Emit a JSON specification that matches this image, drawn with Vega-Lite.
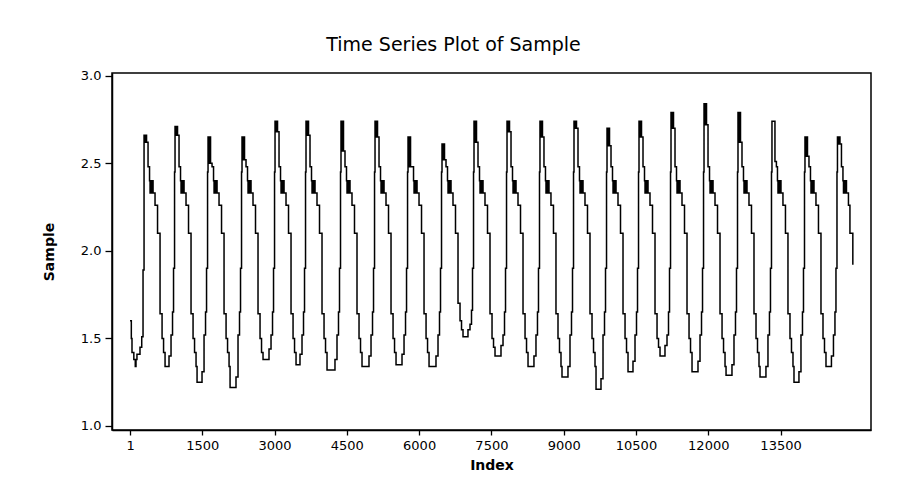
{
"$schema": "https://vega.github.io/schema/vega-lite/v6.json",
"width": 759, "height": 357,
"autosize": "none",
"padding": {"left": 112, "top": 73, "right": 31, "bottom": 63},
"background": "white",
"title": {"text": "Time Series Plot of Sample", "anchor": "middle", "dx": -38, "offset": 15, "fontSize": 19, "font": "DejaVu Sans", "fontWeight": "normal", "color": "black"},
"data": {"values": [
{"Index":1,"Sample":1.60},{"Index":28,"Sample":1.50},{"Index":42,"Sample":1.42},{"Index":80,"Sample":1.38},{"Index":110,"Sample":1.34},{"Index":125,"Sample":1.38},{"Index":145,"Sample":1.41},{"Index":208,"Sample":1.45},{"Index":244,"Sample":1.51},{"Index":271,"Sample":1.89},
{"Index":292,"Sample":2.66},{"Index":302,"Sample":2.62},{"Index":312,"Sample":2.66},{"Index":323,"Sample":2.62},{"Index":333,"Sample":2.66},{"Index":344,"Sample":2.62},{"Index":375,"Sample":2.48},{"Index":406,"Sample":2.40},{"Index":417,"Sample":2.33},{"Index":427,"Sample":2.40},{"Index":437,"Sample":2.33},{"Index":448,"Sample":2.40},{"Index":458,"Sample":2.33},{"Index":468,"Sample":2.40},{"Index":479,"Sample":2.33},{"Index":520,"Sample":2.26},{"Index":572,"Sample":2.10},{"Index":624,"Sample":1.64},{"Index":666,"Sample":1.50},{"Index":697,"Sample":1.42},{"Index":728,"Sample":1.34},{"Index":810,"Sample":1.40},{"Index":852,"Sample":1.52},{"Index":883,"Sample":1.65},{"Index":904,"Sample":1.90},{"Index":925,"Sample":2.45},
{"Index":935,"Sample":2.71},{"Index":945,"Sample":2.66},{"Index":955,"Sample":2.71},{"Index":966,"Sample":2.66},{"Index":976,"Sample":2.71},{"Index":987,"Sample":2.66},{"Index":1018,"Sample":2.48},{"Index":1049,"Sample":2.40},{"Index":1060,"Sample":2.33},{"Index":1070,"Sample":2.40},{"Index":1080,"Sample":2.33},{"Index":1091,"Sample":2.40},{"Index":1101,"Sample":2.33},{"Index":1111,"Sample":2.40},{"Index":1122,"Sample":2.33},{"Index":1163,"Sample":2.26},{"Index":1215,"Sample":2.10},{"Index":1267,"Sample":1.64},{"Index":1309,"Sample":1.50},{"Index":1340,"Sample":1.42},{"Index":1371,"Sample":1.34},{"Index":1392,"Sample":1.25},{"Index":1495,"Sample":1.31},{"Index":1537,"Sample":1.52},{"Index":1568,"Sample":1.65},{"Index":1589,"Sample":1.90},{"Index":1610,"Sample":2.45},
{"Index":1620,"Sample":2.65},{"Index":1630,"Sample":2.50},{"Index":1640,"Sample":2.65},{"Index":1651,"Sample":2.50},{"Index":1661,"Sample":2.65},{"Index":1672,"Sample":2.50},{"Index":1703,"Sample":2.48},{"Index":1734,"Sample":2.40},{"Index":1745,"Sample":2.33},{"Index":1755,"Sample":2.40},{"Index":1765,"Sample":2.33},{"Index":1776,"Sample":2.40},{"Index":1786,"Sample":2.33},{"Index":1796,"Sample":2.40},{"Index":1807,"Sample":2.33},{"Index":1848,"Sample":2.26},{"Index":1900,"Sample":2.10},{"Index":1952,"Sample":1.64},{"Index":1994,"Sample":1.50},{"Index":2025,"Sample":1.42},{"Index":2056,"Sample":1.34},{"Index":2077,"Sample":1.22},{"Index":2200,"Sample":1.28},{"Index":2242,"Sample":1.52},{"Index":2273,"Sample":1.65},{"Index":2294,"Sample":1.90},{"Index":2315,"Sample":2.45},
{"Index":2325,"Sample":2.65},{"Index":2335,"Sample":2.52},{"Index":2345,"Sample":2.65},{"Index":2356,"Sample":2.52},{"Index":2366,"Sample":2.65},{"Index":2377,"Sample":2.52},{"Index":2408,"Sample":2.48},{"Index":2439,"Sample":2.40},{"Index":2450,"Sample":2.33},{"Index":2460,"Sample":2.40},{"Index":2470,"Sample":2.33},{"Index":2481,"Sample":2.40},{"Index":2491,"Sample":2.33},{"Index":2501,"Sample":2.40},{"Index":2512,"Sample":2.33},{"Index":2553,"Sample":2.26},{"Index":2605,"Sample":2.10},{"Index":2657,"Sample":1.64},{"Index":2699,"Sample":1.50},{"Index":2730,"Sample":1.42},{"Index":2761,"Sample":1.38},{"Index":2885,"Sample":1.44},{"Index":2927,"Sample":1.52},{"Index":2958,"Sample":1.65},{"Index":2979,"Sample":1.90},{"Index":3000,"Sample":2.45},
{"Index":3010,"Sample":2.74},{"Index":3020,"Sample":2.68},{"Index":3030,"Sample":2.74},{"Index":3041,"Sample":2.68},{"Index":3051,"Sample":2.74},{"Index":3062,"Sample":2.68},{"Index":3093,"Sample":2.48},{"Index":3124,"Sample":2.40},{"Index":3135,"Sample":2.33},{"Index":3145,"Sample":2.40},{"Index":3155,"Sample":2.33},{"Index":3166,"Sample":2.40},{"Index":3176,"Sample":2.33},{"Index":3186,"Sample":2.40},{"Index":3197,"Sample":2.33},{"Index":3238,"Sample":2.26},{"Index":3290,"Sample":2.10},{"Index":3342,"Sample":1.64},{"Index":3384,"Sample":1.50},{"Index":3415,"Sample":1.42},{"Index":3446,"Sample":1.35},{"Index":3528,"Sample":1.41},{"Index":3570,"Sample":1.52},{"Index":3601,"Sample":1.65},{"Index":3622,"Sample":1.90},{"Index":3643,"Sample":2.45},
{"Index":3653,"Sample":2.74},{"Index":3663,"Sample":2.66},{"Index":3673,"Sample":2.74},{"Index":3684,"Sample":2.66},{"Index":3694,"Sample":2.74},{"Index":3705,"Sample":2.66},{"Index":3736,"Sample":2.48},{"Index":3767,"Sample":2.40},{"Index":3778,"Sample":2.33},{"Index":3788,"Sample":2.40},{"Index":3798,"Sample":2.33},{"Index":3809,"Sample":2.40},{"Index":3819,"Sample":2.33},{"Index":3829,"Sample":2.40},{"Index":3840,"Sample":2.33},{"Index":3881,"Sample":2.26},{"Index":3933,"Sample":2.10},{"Index":3985,"Sample":1.64},{"Index":4027,"Sample":1.50},{"Index":4058,"Sample":1.42},{"Index":4089,"Sample":1.32},{"Index":4254,"Sample":1.38},{"Index":4296,"Sample":1.52},{"Index":4327,"Sample":1.65},{"Index":4348,"Sample":1.90},{"Index":4369,"Sample":2.45},
{"Index":4379,"Sample":2.74},{"Index":4389,"Sample":2.57},{"Index":4399,"Sample":2.74},{"Index":4410,"Sample":2.57},{"Index":4420,"Sample":2.74},{"Index":4431,"Sample":2.57},{"Index":4462,"Sample":2.48},{"Index":4493,"Sample":2.40},{"Index":4504,"Sample":2.33},{"Index":4514,"Sample":2.40},{"Index":4524,"Sample":2.33},{"Index":4535,"Sample":2.40},{"Index":4545,"Sample":2.33},{"Index":4555,"Sample":2.40},{"Index":4566,"Sample":2.33},{"Index":4607,"Sample":2.26},{"Index":4659,"Sample":2.10},{"Index":4711,"Sample":1.64},{"Index":4753,"Sample":1.50},{"Index":4784,"Sample":1.42},{"Index":4815,"Sample":1.34},{"Index":4960,"Sample":1.40},{"Index":5002,"Sample":1.52},{"Index":5033,"Sample":1.65},{"Index":5054,"Sample":1.90},{"Index":5075,"Sample":2.45},
{"Index":5085,"Sample":2.74},{"Index":5095,"Sample":2.65},{"Index":5105,"Sample":2.74},{"Index":5116,"Sample":2.65},{"Index":5126,"Sample":2.74},{"Index":5137,"Sample":2.65},{"Index":5168,"Sample":2.48},{"Index":5199,"Sample":2.40},{"Index":5210,"Sample":2.33},{"Index":5220,"Sample":2.40},{"Index":5230,"Sample":2.33},{"Index":5241,"Sample":2.40},{"Index":5251,"Sample":2.33},{"Index":5261,"Sample":2.40},{"Index":5272,"Sample":2.33},{"Index":5313,"Sample":2.26},{"Index":5365,"Sample":2.10},{"Index":5417,"Sample":1.64},{"Index":5459,"Sample":1.50},{"Index":5490,"Sample":1.42},{"Index":5521,"Sample":1.35},{"Index":5645,"Sample":1.41},{"Index":5687,"Sample":1.52},{"Index":5718,"Sample":1.65},{"Index":5739,"Sample":1.90},{"Index":5760,"Sample":2.45},
{"Index":5770,"Sample":2.65},{"Index":5780,"Sample":2.48},{"Index":5790,"Sample":2.65},{"Index":5801,"Sample":2.48},{"Index":5811,"Sample":2.65},{"Index":5822,"Sample":2.48},{"Index":5853,"Sample":2.48},{"Index":5884,"Sample":2.40},{"Index":5895,"Sample":2.33},{"Index":5905,"Sample":2.40},{"Index":5915,"Sample":2.33},{"Index":5926,"Sample":2.40},{"Index":5936,"Sample":2.33},{"Index":5946,"Sample":2.40},{"Index":5957,"Sample":2.33},{"Index":5998,"Sample":2.26},{"Index":6050,"Sample":2.10},{"Index":6102,"Sample":1.64},{"Index":6144,"Sample":1.50},{"Index":6175,"Sample":1.42},{"Index":6206,"Sample":1.34},{"Index":6350,"Sample":1.40},{"Index":6392,"Sample":1.52},{"Index":6423,"Sample":1.65},{"Index":6444,"Sample":1.90},{"Index":6465,"Sample":2.45},
{"Index":6475,"Sample":2.61},{"Index":6485,"Sample":2.52},{"Index":6495,"Sample":2.61},{"Index":6506,"Sample":2.52},{"Index":6516,"Sample":2.61},{"Index":6527,"Sample":2.52},{"Index":6558,"Sample":2.48},{"Index":6589,"Sample":2.40},{"Index":6600,"Sample":2.33},{"Index":6610,"Sample":2.40},{"Index":6620,"Sample":2.33},{"Index":6631,"Sample":2.40},{"Index":6641,"Sample":2.33},{"Index":6651,"Sample":2.40},{"Index":6662,"Sample":2.33},{"Index":6703,"Sample":2.26},{"Index":6755,"Sample":2.10},{"Index":6807,"Sample":1.70},{"Index":6849,"Sample":1.60},{"Index":6880,"Sample":1.55},{"Index":6911,"Sample":1.51},{"Index":7014,"Sample":1.55},{"Index":7056,"Sample":1.58},{"Index":7087,"Sample":1.66},{"Index":7108,"Sample":1.90},{"Index":7129,"Sample":2.45},
{"Index":7139,"Sample":2.74},{"Index":7149,"Sample":2.62},{"Index":7159,"Sample":2.74},{"Index":7170,"Sample":2.62},{"Index":7180,"Sample":2.74},{"Index":7191,"Sample":2.62},{"Index":7222,"Sample":2.48},{"Index":7253,"Sample":2.40},{"Index":7264,"Sample":2.33},{"Index":7274,"Sample":2.40},{"Index":7284,"Sample":2.33},{"Index":7295,"Sample":2.40},{"Index":7305,"Sample":2.33},{"Index":7315,"Sample":2.40},{"Index":7326,"Sample":2.33},{"Index":7367,"Sample":2.26},{"Index":7419,"Sample":2.10},{"Index":7471,"Sample":1.64},{"Index":7513,"Sample":1.50},{"Index":7544,"Sample":1.45},{"Index":7575,"Sample":1.40},{"Index":7699,"Sample":1.46},{"Index":7741,"Sample":1.52},{"Index":7772,"Sample":1.65},{"Index":7793,"Sample":1.90},{"Index":7814,"Sample":2.45},
{"Index":7824,"Sample":2.74},{"Index":7834,"Sample":2.68},{"Index":7844,"Sample":2.74},{"Index":7855,"Sample":2.68},{"Index":7865,"Sample":2.74},{"Index":7876,"Sample":2.68},{"Index":7907,"Sample":2.48},{"Index":7938,"Sample":2.40},{"Index":7949,"Sample":2.33},{"Index":7959,"Sample":2.40},{"Index":7969,"Sample":2.33},{"Index":7980,"Sample":2.40},{"Index":7990,"Sample":2.33},{"Index":8000,"Sample":2.40},{"Index":8011,"Sample":2.33},{"Index":8052,"Sample":2.26},{"Index":8104,"Sample":2.10},{"Index":8156,"Sample":1.64},{"Index":8198,"Sample":1.50},{"Index":8229,"Sample":1.42},{"Index":8260,"Sample":1.34},{"Index":8383,"Sample":1.40},{"Index":8425,"Sample":1.52},{"Index":8456,"Sample":1.65},{"Index":8477,"Sample":1.90},{"Index":8498,"Sample":2.45},
{"Index":8508,"Sample":2.74},{"Index":8518,"Sample":2.65},{"Index":8528,"Sample":2.74},{"Index":8539,"Sample":2.65},{"Index":8549,"Sample":2.74},{"Index":8560,"Sample":2.65},{"Index":8591,"Sample":2.48},{"Index":8622,"Sample":2.40},{"Index":8633,"Sample":2.33},{"Index":8643,"Sample":2.40},{"Index":8653,"Sample":2.33},{"Index":8664,"Sample":2.40},{"Index":8674,"Sample":2.33},{"Index":8684,"Sample":2.40},{"Index":8695,"Sample":2.33},{"Index":8736,"Sample":2.26},{"Index":8788,"Sample":2.10},{"Index":8840,"Sample":1.64},{"Index":8882,"Sample":1.50},{"Index":8913,"Sample":1.42},{"Index":8944,"Sample":1.34},{"Index":8965,"Sample":1.28},{"Index":9089,"Sample":1.34},{"Index":9131,"Sample":1.52},{"Index":9162,"Sample":1.65},{"Index":9183,"Sample":1.90},{"Index":9204,"Sample":2.45},
{"Index":9214,"Sample":2.74},{"Index":9224,"Sample":2.70},{"Index":9234,"Sample":2.74},{"Index":9245,"Sample":2.70},{"Index":9255,"Sample":2.74},{"Index":9266,"Sample":2.70},{"Index":9297,"Sample":2.48},{"Index":9328,"Sample":2.40},{"Index":9339,"Sample":2.33},{"Index":9349,"Sample":2.40},{"Index":9359,"Sample":2.33},{"Index":9370,"Sample":2.40},{"Index":9380,"Sample":2.33},{"Index":9390,"Sample":2.40},{"Index":9401,"Sample":2.33},{"Index":9442,"Sample":2.26},{"Index":9494,"Sample":2.10},{"Index":9546,"Sample":1.64},{"Index":9588,"Sample":1.50},{"Index":9619,"Sample":1.42},{"Index":9650,"Sample":1.34},{"Index":9671,"Sample":1.21},{"Index":9774,"Sample":1.27},{"Index":9816,"Sample":1.52},{"Index":9847,"Sample":1.65},{"Index":9868,"Sample":1.90},{"Index":9889,"Sample":2.45},
{"Index":9899,"Sample":2.70},{"Index":9909,"Sample":2.60},{"Index":9919,"Sample":2.70},{"Index":9930,"Sample":2.60},{"Index":9940,"Sample":2.70},{"Index":9951,"Sample":2.60},{"Index":9982,"Sample":2.48},{"Index":10013,"Sample":2.40},{"Index":10024,"Sample":2.33},{"Index":10034,"Sample":2.40},{"Index":10044,"Sample":2.33},{"Index":10055,"Sample":2.40},{"Index":10065,"Sample":2.33},{"Index":10075,"Sample":2.40},{"Index":10086,"Sample":2.33},{"Index":10127,"Sample":2.26},{"Index":10179,"Sample":2.10},{"Index":10231,"Sample":1.64},{"Index":10273,"Sample":1.50},{"Index":10304,"Sample":1.42},{"Index":10335,"Sample":1.31},{"Index":10438,"Sample":1.37},{"Index":10480,"Sample":1.52},{"Index":10511,"Sample":1.65},{"Index":10532,"Sample":1.90},{"Index":10553,"Sample":2.45},
{"Index":10563,"Sample":2.74},{"Index":10573,"Sample":2.65},{"Index":10583,"Sample":2.74},{"Index":10594,"Sample":2.65},{"Index":10604,"Sample":2.74},{"Index":10615,"Sample":2.65},{"Index":10646,"Sample":2.48},{"Index":10677,"Sample":2.40},{"Index":10688,"Sample":2.33},{"Index":10698,"Sample":2.40},{"Index":10708,"Sample":2.33},{"Index":10719,"Sample":2.40},{"Index":10729,"Sample":2.33},{"Index":10739,"Sample":2.40},{"Index":10750,"Sample":2.33},{"Index":10791,"Sample":2.26},{"Index":10843,"Sample":2.10},{"Index":10895,"Sample":1.64},{"Index":10937,"Sample":1.50},{"Index":10968,"Sample":1.45},{"Index":10999,"Sample":1.40},{"Index":11102,"Sample":1.46},{"Index":11144,"Sample":1.52},{"Index":11175,"Sample":1.65},{"Index":11196,"Sample":1.90},{"Index":11217,"Sample":2.45},
{"Index":11227,"Sample":2.79},{"Index":11237,"Sample":2.70},{"Index":11247,"Sample":2.79},{"Index":11258,"Sample":2.70},{"Index":11268,"Sample":2.79},{"Index":11279,"Sample":2.70},{"Index":11310,"Sample":2.48},{"Index":11341,"Sample":2.40},{"Index":11352,"Sample":2.33},{"Index":11362,"Sample":2.40},{"Index":11372,"Sample":2.33},{"Index":11383,"Sample":2.40},{"Index":11393,"Sample":2.33},{"Index":11403,"Sample":2.40},{"Index":11414,"Sample":2.33},{"Index":11455,"Sample":2.26},{"Index":11507,"Sample":2.10},{"Index":11559,"Sample":1.64},{"Index":11601,"Sample":1.50},{"Index":11632,"Sample":1.42},{"Index":11663,"Sample":1.31},{"Index":11787,"Sample":1.37},{"Index":11829,"Sample":1.52},{"Index":11860,"Sample":1.65},{"Index":11881,"Sample":1.90},{"Index":11902,"Sample":2.45},
{"Index":11912,"Sample":2.84},{"Index":11922,"Sample":2.72},{"Index":11932,"Sample":2.84},{"Index":11943,"Sample":2.72},{"Index":11953,"Sample":2.84},{"Index":11964,"Sample":2.72},{"Index":11995,"Sample":2.48},{"Index":12026,"Sample":2.40},{"Index":12037,"Sample":2.33},{"Index":12047,"Sample":2.40},{"Index":12057,"Sample":2.33},{"Index":12068,"Sample":2.40},{"Index":12078,"Sample":2.33},{"Index":12088,"Sample":2.40},{"Index":12099,"Sample":2.33},{"Index":12140,"Sample":2.26},{"Index":12192,"Sample":2.10},{"Index":12244,"Sample":1.64},{"Index":12286,"Sample":1.50},{"Index":12317,"Sample":1.42},{"Index":12348,"Sample":1.34},{"Index":12369,"Sample":1.29},{"Index":12492,"Sample":1.35},{"Index":12534,"Sample":1.52},{"Index":12565,"Sample":1.65},{"Index":12586,"Sample":1.90},{"Index":12607,"Sample":2.45},
{"Index":12617,"Sample":2.79},{"Index":12627,"Sample":2.62},{"Index":12637,"Sample":2.79},{"Index":12648,"Sample":2.62},{"Index":12658,"Sample":2.79},{"Index":12669,"Sample":2.62},{"Index":12700,"Sample":2.48},{"Index":12731,"Sample":2.40},{"Index":12742,"Sample":2.33},{"Index":12752,"Sample":2.40},{"Index":12762,"Sample":2.33},{"Index":12773,"Sample":2.40},{"Index":12783,"Sample":2.33},{"Index":12793,"Sample":2.40},{"Index":12804,"Sample":2.33},{"Index":12845,"Sample":2.26},{"Index":12897,"Sample":2.10},{"Index":12949,"Sample":1.64},{"Index":12991,"Sample":1.50},{"Index":13022,"Sample":1.42},{"Index":13053,"Sample":1.34},{"Index":13074,"Sample":1.28},{"Index":13197,"Sample":1.34},{"Index":13239,"Sample":1.52},{"Index":13270,"Sample":1.65},{"Index":13291,"Sample":1.90},{"Index":13312,"Sample":2.45},
{"Index":13322,"Sample":2.74},{"Index":13384,"Sample":2.51},{"Index":13414,"Sample":2.48},{"Index":13436,"Sample":2.40},{"Index":13447,"Sample":2.33},{"Index":13457,"Sample":2.40},{"Index":13467,"Sample":2.33},{"Index":13478,"Sample":2.40},{"Index":13488,"Sample":2.33},{"Index":13498,"Sample":2.40},{"Index":13509,"Sample":2.33},{"Index":13550,"Sample":2.26},{"Index":13602,"Sample":2.10},{"Index":13654,"Sample":1.64},{"Index":13696,"Sample":1.50},{"Index":13727,"Sample":1.42},{"Index":13758,"Sample":1.34},{"Index":13779,"Sample":1.25},{"Index":13882,"Sample":1.31},{"Index":13924,"Sample":1.52},{"Index":13955,"Sample":1.65},{"Index":13976,"Sample":1.90},{"Index":13997,"Sample":2.45},
{"Index":14007,"Sample":2.65},{"Index":14017,"Sample":2.54},{"Index":14027,"Sample":2.65},{"Index":14038,"Sample":2.54},{"Index":14048,"Sample":2.65},{"Index":14059,"Sample":2.54},{"Index":14090,"Sample":2.48},{"Index":14121,"Sample":2.40},{"Index":14132,"Sample":2.33},{"Index":14142,"Sample":2.40},{"Index":14152,"Sample":2.33},{"Index":14163,"Sample":2.40},{"Index":14173,"Sample":2.33},{"Index":14183,"Sample":2.40},{"Index":14194,"Sample":2.33},{"Index":14235,"Sample":2.26},{"Index":14287,"Sample":2.10},{"Index":14339,"Sample":1.64},{"Index":14381,"Sample":1.50},{"Index":14412,"Sample":1.42},{"Index":14443,"Sample":1.34},{"Index":14556,"Sample":1.40},{"Index":14598,"Sample":1.52},{"Index":14629,"Sample":1.65},{"Index":14650,"Sample":1.90},{"Index":14671,"Sample":2.45},
{"Index":14681,"Sample":2.65},{"Index":14691,"Sample":2.61},{"Index":14701,"Sample":2.65},{"Index":14712,"Sample":2.61},{"Index":14722,"Sample":2.65},{"Index":14733,"Sample":2.61},{"Index":14764,"Sample":2.48},{"Index":14795,"Sample":2.40},{"Index":14806,"Sample":2.33},{"Index":14816,"Sample":2.40},{"Index":14826,"Sample":2.33},{"Index":14837,"Sample":2.40},{"Index":14847,"Sample":2.33},{"Index":14857,"Sample":2.40},{"Index":14868,"Sample":2.33},{"Index":14909,"Sample":2.26},{"Index":14940,"Sample":2.10},{"Index":15000,"Sample":1.92}
]},
"mark": {"type": "line", "interpolate": "step-after", "color": "black", "strokeWidth": 1.5},
"encoding": {
  "x": {"field": "Index", "type": "quantitative",
        "scale": {"domain": [-373, 15377], "nice": false, "zero": false},
        "axis": {"values": [1,1500,3000,4500,6000,7500,9000,10500,12000,13500], "format": "d", "title": "Index", "labelFlush": false, "labelOverlap": false, "tickSize": 5, "labelPadding": 4, "titlePadding": 6}},
  "y": {"field": "Sample", "type": "quantitative",
        "scale": {"domain": [0.977, 3.015], "nice": false, "zero": false},
        "axis": {"values": [1.0,1.5,2.0,2.5,3.0], "format": ".1f", "title": "Sample", "labelOverlap": false, "tickSize": 7, "labelPadding": 4, "titlePadding": 24}}
},
"config": {
  "view": {"stroke": "black", "strokeWidth": 1.5},
  "axis": {"grid": false, "domainColor": "black", "domainWidth": 1.5, "tickColor": "black", "tickWidth": 1.3,
           "labelFont": "DejaVu Sans", "labelFontSize": 13, "labelColor": "black",
           "titleFont": "DejaVu Sans", "titleFontSize": 14, "titleFontWeight": "bold", "titleColor": "black"}
}
}
